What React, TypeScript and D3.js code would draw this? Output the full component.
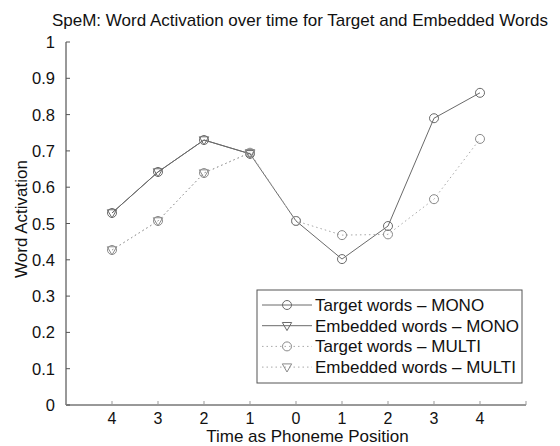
import React from "react";
import * as d3 from "d3";

const positions = [1, 2, 3, 4, 5, 6, 7, 8, 9];
const xTickValues = [0, 1, 2, 3, 4, 5, 6, 7, 8, 9, 10];
const xTickLabels = ["", "4", "3", "2", "1", "0", "1", "2", "3", "4", ""];
const yTickValues = [0, 0.1, 0.2, 0.3, 0.4, 0.5, 0.6, 0.7, 0.8, 0.9, 1];

const targetMono = [0.529, 0.642, 0.73, 0.692, 0.507, 0.402, 0.493, 0.79, 0.86];
const embeddedMono = [0.529, 0.642, 0.73, 0.692];
const targetMulti = [0.427, 0.507, 0.639, 0.695, 0.507, 0.468, 0.47, 0.567, 0.733];
const embeddedMulti = [0.427, 0.507, 0.639, 0.695];

const seriesNames = [
  "Target words – MONO",
  "Embedded words – MONO",
  "Target words – MULTI",
  "Embedded words – MULTI",
];

const W = 560;
const H = 446;
const left = 66;
const right = 526;
const top = 42;
const bottom = 405;
const FONT = "'Liberation Sans', Arial, Helvetica, sans-serif";

const x = d3.scaleLinear().domain([0, 10]).range([left, right]);
const y = d3.scaleLinear().domain([0, 1]).range([bottom, top]);

type Style = { stroke: string; dash?: string; marker: "circle" | "tri"; mstroke: string };

const styles: Style[] = [
  { stroke: "#6a6a6a", marker: "circle", mstroke: "#6a6a6a" },
  { stroke: "#6a6a6a", marker: "tri", mstroke: "#6a6a6a" },
  { stroke: "#a8a8a8", dash: "1.5,3", marker: "circle", mstroke: "#8a8a8a" },
  { stroke: "#a8a8a8", dash: "1.5,3", marker: "tri", mstroke: "#8a8a8a" },
];

const seriesData = [targetMono, embeddedMono, targetMulti, embeddedMulti];

function Marker({ cx, cy, s }: { cx: number; cy: number; s: Style }) {
  if (s.marker === "circle") {
    return <circle cx={cx} cy={cy} r={4.5} fill="none" stroke={s.mstroke} strokeWidth={1} />;
  }
  const sym = d3.symbol().type(d3.symbolTriangle).size(38)();
  return (
    <path
      d={sym || ""}
      transform={`translate(${cx},${cy - 0.5}) rotate(180)`}
      fill="none"
      stroke={s.mstroke}
      strokeWidth={1}
    />
  );
}

export default function App() {
  const line = d3
    .line<number>()
    .x((_, i) => x(positions[i]))
    .y((d) => y(d));

  return (
    <svg width={W} height={H} style={{ position: "absolute", left: 0, top: 0, background: "#fff" }}>
      <rect width={W} height={H} fill="#fff" />
      <text x={300} y={26} textAnchor="middle" fontFamily={FONT} fontSize={17} fill="#111">
        SpeM: Word Activation over time for Target and Embedded Words
      </text>

      {/* axes */}
      <line x1={left} y1={top} x2={left} y2={bottom} stroke="#333" strokeWidth={1} />
      <line x1={left} y1={bottom} x2={right} y2={bottom} stroke="#333" strokeWidth={1} />
      {yTickValues.map((v) => (
        <g key={"y" + v}>
          <line x1={left} x2={left + 4} y1={y(v)} y2={y(v)} stroke="#555" />
          <text x={55} y={y(v) + 6} textAnchor="end" fontFamily={FONT} fontSize={16.5} fill="#111">
            {d3.format("~g")(v)}
          </text>
        </g>
      ))}
      {xTickValues.map((v, i) => (
        <g key={"x" + v}>
          <line x1={x(v)} x2={x(v)} y1={bottom} y2={bottom - 4} stroke="#999" />
          <text x={x(v)} y={423.5} textAnchor="middle" fontFamily={FONT} fontSize={16} fill="#111">
            {xTickLabels[i]}
          </text>
        </g>
      ))}
      <text x={307.5} y={442} textAnchor="middle" fontFamily={FONT} fontSize={17} fill="#111">
        Time as Phoneme Position
      </text>
      <text
        transform={`translate(27,${219}) rotate(-90)`}
        textAnchor="middle"
        fontFamily={FONT}
        fontSize={17}
        fill="#111"
      >
        Word Activation
      </text>

      {/* series */}
      {seriesData.map((data, si) => (
        <g key={"s" + si}>
          <path d={line(data) || ""} fill="none" stroke={styles[si].stroke} strokeWidth={1} strokeDasharray={styles[si].dash} />
          {data.map((v, i) => (
            <Marker key={i} cx={x(positions[i])} cy={y(v)} s={styles[si]} />
          ))}
        </g>
      ))}

      {/* legend */}
      <rect x={257} y={290} width={265} height={93} fill="#fff" stroke="#555" strokeWidth={1} />
      {seriesNames.map((name, i) => {
        const ly = 305 + i * 20.7;
        return (
          <g key={"l" + i}>
            <line x1={262} x2={312} y1={ly} y2={ly} stroke={styles[i].stroke} strokeDasharray={styles[i].dash} />
            <Marker cx={287} cy={ly} s={styles[i]} />
            <text x={315} y={ly + 6} fontFamily={FONT} fontSize={17} fill="#111">
              {name}
            </text>
          </g>
        );
      })}
    </svg>
  );
}
